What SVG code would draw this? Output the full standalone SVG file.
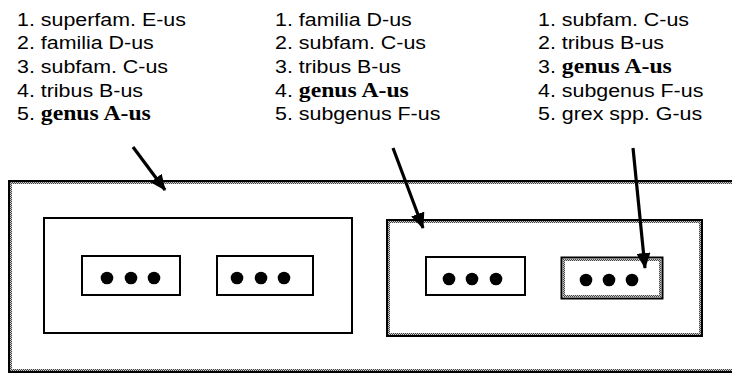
<svg xmlns="http://www.w3.org/2000/svg" width="732" height="374" viewBox="0 0 732 374">
<defs>
<pattern id="stip" width="2" height="2" patternUnits="userSpaceOnUse">
<rect width="2" height="2" fill="#ccc"/>
<rect width="1" height="1" fill="#444"/>
<rect x="1" y="1" width="1" height="1" fill="#444"/>
</pattern>
<marker id="ah" markerUnits="userSpaceOnUse" markerWidth="16" markerHeight="14" refX="15" refY="7" orient="auto" viewBox="0 0 16 14">
<path d="M0,0 L16,7 L0,14 Z" fill="#000"/>
</marker>
</defs>
<style>
.t{font-family:"Liberation Sans",Arial,sans-serif;font-size:18.5px;fill:#000}
.b{font-family:"Liberation Serif","Times New Roman",serif;font-weight:bold;font-size:20.5px}
.box{fill:none;stroke:#000;stroke-width:2}
.stp{fill:none;stroke:url(#stip);stroke-width:2}
.dot{fill:#000}
.arr{fill:none;stroke:#000;stroke-width:3.2;marker-end:url(#ah)}
</style>
<rect width="732" height="374" fill="#fff"/>

<g id="labels-left">
<text class="t" transform="translate(17 26) scale(1.157 1)">1. superfam. E-us</text>
<text class="t" transform="translate(17 49) scale(1.157 1)">2. familia D-us</text>
<text class="t" transform="translate(17 73) scale(1.157 1)">3. subfam. C-us</text>
<text class="t" transform="translate(17 97) scale(1.157 1)">4. tribus B-us</text>
<text class="t" transform="translate(17 120) scale(1.157 1)">5. <tspan class="b">genus A-us</tspan></text>
</g>
<g id="labels-middle">
<text class="t" transform="translate(275 26) scale(1.157 1)">1. familia D-us</text>
<text class="t" transform="translate(275 49) scale(1.157 1)">2. subfam. C-us</text>
<text class="t" transform="translate(275 73) scale(1.157 1)">3. tribus B-us</text>
<text class="t" transform="translate(275 97) scale(1.157 1)">4. <tspan class="b">genus A-us</tspan></text>
<text class="t" transform="translate(275 120) scale(1.157 1)">5. subgenus F-us</text>
</g>
<g id="labels-right">
<text class="t" transform="translate(538 26) scale(1.157 1)">1. subfam. C-us</text>
<text class="t" transform="translate(538 49) scale(1.157 1)">2. tribus B-us</text>
<text class="t" transform="translate(538 73) scale(1.157 1)">3. <tspan class="b">genus A-us</tspan></text>
<text class="t" transform="translate(538 97) scale(1.157 1)">4. subgenus F-us</text>
<text class="t" transform="translate(538 120) scale(1.157 1)">5. grex spp. G-us</text>
</g>

<g id="outer">
<rect class="box" x="9" y="181" width="740" height="191"/>
<rect class="stp" x="11" y="183" width="740" height="187"/>
</g>

<g id="inner-left">
<rect class="box" x="44" y="218" width="308" height="115"/>
</g>
<g id="box1">
<rect class="box" x="82" y="256" width="98" height="39"/>
<circle class="dot" cx="107" cy="278" r="6.3"/>
<circle class="dot" cx="131" cy="278" r="6.3"/>
<circle class="dot" cx="154" cy="278" r="6.3"/>
</g>
<g id="box2">
<rect class="box" x="217" y="256" width="96" height="39"/>
<circle class="dot" cx="237" cy="278" r="6.3"/>
<circle class="dot" cx="261" cy="278" r="6.3"/>
<circle class="dot" cx="284" cy="278" r="6.3"/>
</g>

<g id="inner-right">
<rect class="box" x="387" y="220" width="315" height="116"/>
<rect class="stp" x="389" y="222" width="311" height="112"/>
</g>
<g id="box3">
<rect class="box" x="426" y="257" width="99" height="38"/>
<circle class="dot" cx="449" cy="279" r="6.3"/>
<circle class="dot" cx="472" cy="279" r="6.3"/>
<circle class="dot" cx="496" cy="279" r="6.3"/>
</g>
<g id="box4">
<rect class="box" x="561.5" y="257.5" width="101" height="41" stroke-width="3"/>
<rect class="stp" x="564" y="260" width="96" height="36"/>
<circle class="dot" cx="586" cy="280" r="6.3"/>
<circle class="dot" cx="609" cy="280" r="6.3"/>
<circle class="dot" cx="632" cy="280" r="6.3"/>
</g>

<g id="connectors">
<line class="arr" x1="133" y1="147" x2="165" y2="190"/>
<line class="arr" x1="393" y1="148" x2="423" y2="228"/>
<line class="arr" x1="633" y1="148" x2="645" y2="268"/>
</g>
</svg>
